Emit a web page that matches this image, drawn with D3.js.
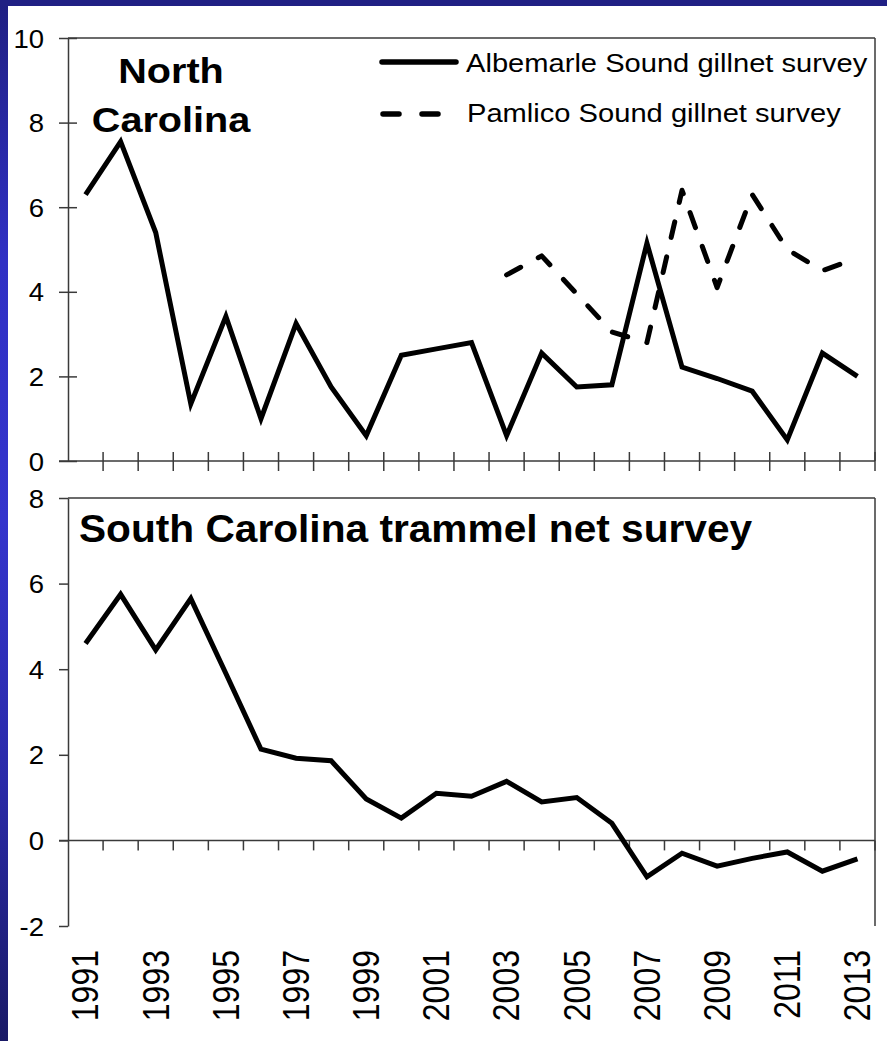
<!DOCTYPE html>
<html>
<head>
<meta charset="utf-8">
<script src="https://cdn.jsdelivr.net/npm/d3@7"></script>
<style>
  html, body { margin: 0; padding: 0; background: #fff; }
  svg { display: block; }
  text { font-family: "Liberation Sans", Arial, sans-serif; fill: #000; }
</style>
</head>
<body>
<svg id="chart" width="887" height="1041"></svg>
<script>
// Survey years
const years = [1991, 1992, 1993, 1994, 1995, 1996, 1997, 1998, 1999, 2000, 2001, 2002,
               2003, 2004, 2005, 2006, 2007, 2008, 2009, 2010, 2011, 2012, 2013];

// North Carolina indices
const albemarle = [6.3, 7.55, 5.4, 1.35, 3.42, 1.0, 3.25, 1.75, 0.6, 2.5, 2.65, 2.8,
                   0.6, 2.55, 1.75, 1.8, 5.15, 2.22, 1.95, 1.65, 0.5, 2.55, 2.0];
const pamlico = [null, null, null, null, null, null, null, null, null, null, null, null,
                 4.4, 4.85, 3.95, 3.05, 2.8, 6.4, 4.1, 6.3, 5.0, 4.5, 4.8];

// South Carolina index
const southCarolina = [4.6, 5.75, 4.45, 5.65, 3.9, 2.13, 1.92, 1.86, 0.97, 0.52, 1.1, 1.03,
                       1.38, 0.9, 1.0, 0.4, -0.85, -0.3, -0.6, -0.42, -0.27, -0.72, -0.43];

const topTicks = [0, 2, 4, 6, 8, 10];
const bottomTicks = [-2, 0, 2, 4, 6, 8];
const yearLabels = years.filter((y, i) => i % 2 === 0);

const seriesNames = ["Albemarle Sound gillnet survey", "Pamlico Sound gillnet survey"];
const topTitle = ["North", "Carolina"];
const bottomTitle = "South Carolina trammel net survey";

const svg = d3.select("#chart");
const W = 887, H = 1041;

// Blue slide frame behind the white panel
const defs = svg.append("defs");
const grad = defs.append("linearGradient").attr("id", "frame")
  .attr("x1", 0).attr("y1", 0).attr("x2", 0).attr("y2", 1);
[[0, "#1f1f82"], [0.25, "#3030c4"], [0.5, "#3434cc"], [0.75, "#2a2aa8"], [1, "#1a1a66"]]
  .forEach(([o, c]) => grad.append("stop").attr("offset", o).attr("stop-color", c));
svg.append("rect").attr("width", W).attr("height", H).attr("fill", "url(#frame)");
svg.append("rect").attr("x", 0).attr("y", 0).attr("width", W).attr("height", 6).attr("fill", "#202084");
svg.append("rect").attr("x", 8).attr("y", 6).attr("width", W - 8).attr("height", H - 6).attr("fill", "#fff");

const left = 68, right = 875;
const x = d3.scaleBand().domain(years).range([left, right]).paddingInner(0).paddingOuter(0);
const cx = d => x(d) + x.bandwidth() / 2;

const yTop = d3.scaleLinear().domain([0, 10]).range([461, 38]);
const yBot = d3.scaleLinear().domain([-2, 8]).range([926, 498]);

const axisColor = "#3a3a3a";

function stretchedText(g, px, py, sx, str, opts) {
  const t = g.append("g").attr("transform", `translate(${px},${py}) scale(${sx},1)`)
    .append("text").text(str);
  Object.entries(opts).forEach(([k, v]) => t.attr(k, v));
  return t;
}

function frame(y, ticks, crossX, crossY) {
  const g = svg.append("g");
  const [y0, y1] = y.range(); // bottom, top
  // box: top and right edges
  g.append("line").attr("x1", left).attr("x2", right).attr("y1", y1).attr("y2", y1)
    .attr("stroke", axisColor).attr("stroke-width", 1.5);
  g.append("line").attr("x1", right).attr("x2", right).attr("y1", y1).attr("y2", y0)
    .attr("stroke", axisColor).attr("stroke-width", 1.5);

  // left axis
  const yAxis = d3.axisLeft(y).tickValues(ticks).tickSize(0).tickFormat("");
  const ga = g.append("g").attr("transform", `translate(${left},0)`).call(yAxis);
  ga.select(".domain").attr("stroke", axisColor).attr("stroke-width", 1.5);
  ga.selectAll(".tick").append("line")
    .attr("x1", -9).attr("x2", crossY ? 9 : 0)
    .attr("stroke", axisColor).attr("stroke-width", 1.5);
  ga.selectAll(".tick").each(function (d) {
    stretchedText(d3.select(this), -24, 0, 1.1, String(d), {
      "text-anchor": "end", "dy": "0.36em", "font-size": 25
    });
  });

  // category axis at zero
  const zy = y(0);
  g.append("line").attr("x1", left - 9).attr("x2", right).attr("y1", zy).attr("y2", zy)
    .attr("stroke", axisColor).attr("stroke-width", 1.5);
  const bounds = years.slice(1).map(d => x(d)).concat([right]);
  g.selectAll("line.xt").data(bounds).join("line").attr("class", "xt")
    .attr("x1", d => d).attr("x2", d => d)
    .attr("y1", crossX ? zy - 9 : zy).attr("y2", zy + 10)
    .attr("stroke", axisColor).attr("stroke-width", 1.5);
  return g;
}

frame(yTop, topTicks, true, true);
frame(yBot, bottomTicks, false, false);

// Year labels under the lower panel
yearLabels.forEach(yr => {
  svg.append("g")
    .attr("transform", `translate(${cx(yr)},950) rotate(-90) scale(1,1.15)`)
    .append("text").text(yr)
    .attr("text-anchor", "end").attr("dy", "0.35em").attr("font-size", 32);
});

// Series lines
const lineTop = d3.line().defined(d => d.v !== null).x(d => cx(d.year)).y(d => yTop(d.v));
const lineBot = d3.line().x(d => cx(d.year)).y(d => yBot(d.v));
const pack = arr => years.map((year, i) => ({ year, v: arr[i] }));

svg.append("path").datum(pack(pamlico)).attr("d", lineTop)
  .attr("fill", "none").attr("stroke", "#000").attr("stroke-width", 5)
  .attr("stroke-dasharray", "16,20").attr("stroke-linecap", "round").attr("stroke-linejoin", "round");
svg.append("path").datum(pack(albemarle)).attr("d", lineTop)
  .attr("fill", "none").attr("stroke", "#000").attr("stroke-width", 5)
  .attr("stroke-linejoin", "miter");
svg.append("path").datum(pack(southCarolina)).attr("d", lineBot)
  .attr("fill", "none").attr("stroke", "#000").attr("stroke-width", 5)
  .attr("stroke-linejoin", "miter");

// Legend
const leg = svg.append("g");
leg.append("line").attr("x1", 382).attr("x2", 456).attr("y1", 62).attr("y2", 62)
  .attr("stroke", "#000").attr("stroke-width", 5.5).attr("stroke-linecap", "round");
leg.append("line").attr("x1", 383).attr("x2", 440).attr("y1", 114).attr("y2", 114)
  .attr("stroke", "#000").attr("stroke-width", 5.5).attr("stroke-linecap", "round")
  .attr("stroke-dasharray", "16,23");
stretchedText(leg, 466, 72, 1.12, seriesNames[0], { "font-size": 26 });
stretchedText(leg, 467, 122, 1.12, seriesNames[1], { "font-size": 26 });

// Panel titles
stretchedText(svg, 171, 83, 1.1, topTitle[0], { "font-size": 36, "font-weight": "bold", "text-anchor": "middle" });
stretchedText(svg, 171, 132, 1.1, topTitle[1], { "font-size": 36, "font-weight": "bold", "text-anchor": "middle" });
stretchedText(svg, 79, 542, 1.07, bottomTitle, { "font-size": 38, "font-weight": "bold" });
</script>
</body>
</html>
